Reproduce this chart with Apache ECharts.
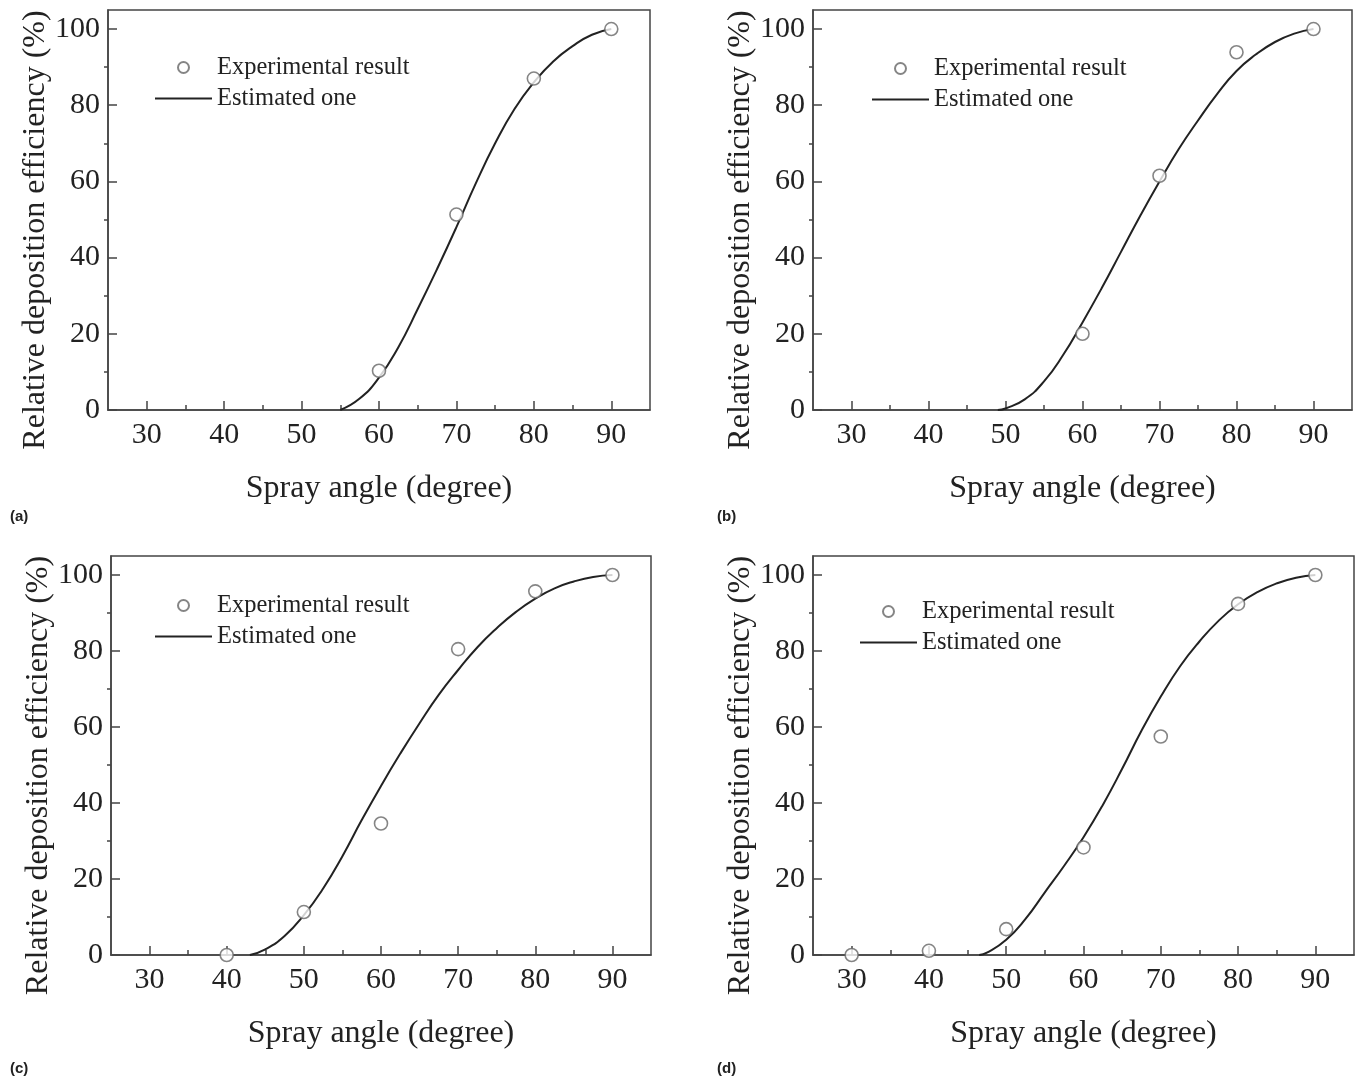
<!DOCTYPE html>
<html>
<head>
<meta charset="utf-8">
<script src="https://cdn.jsdelivr.net/npm/echarts@6/dist/echarts.min.js"></script>
<style>
html,body{margin:0;padding:0;background:#fff;}
#chart{width:1356px;height:1083px;}
</style>
</head>
<body>
<div id="chart"></div>
<script>
// ---- data ----
var panelLabels = ['(a)', '(b)', '(c)', '(d)'];
var xTickValues = [30, 40, 50, 60, 70, 80, 90];
var xMinorValues = [35, 45, 55, 65, 75, 85];
var yTickValues = [0, 20, 40, 60, 80, 100];
var yMinorValues = [10, 30, 50, 70, 90];

var expAngleA = [60, 70, 80, 90];
var expValueA = [10.3, 51.3, 87, 100];
var fitAngleA = [55, 57.5, 60, 62.5, 65, 67.5, 70, 72.5, 75, 77.5, 80, 82.5, 85, 87.5, 90];
var fitValueA = [0, 3, 8.5, 16.5, 26.5, 37, 48, 59.5, 70, 79, 86, 91.5, 95.5, 98.5, 100];

var expAngleB = [60, 70, 80, 90];
var expValueB = [20, 61.5, 93.9, 100];
var fitAngleB = [49, 50, 52.5, 55, 57.5, 60, 62.5, 65, 67.5, 70, 72.5, 75, 77.5, 80, 82.5, 85, 87.5, 90];
var fitValueB = [0, 0.4, 2.8, 7.5, 14.5, 23, 32, 41.5, 51, 60, 68.5, 76, 83, 89, 93.3, 96.6, 98.8, 100];

var expAngleC = [40, 50, 60, 70, 80, 90];
var expValueC = [0, 11.3, 34.6, 80.5, 95.7, 100];
var fitAngleC = [43, 45, 47.5, 50, 52.5, 55, 57.5, 60, 62.5, 65, 67.5, 70, 72.5, 75, 77.5, 80, 82.5, 85, 87.5, 90];
var fitValueC = [0, 1.5, 5, 10.5, 17.5, 26, 35.5, 44.5, 53, 61, 68.5, 75, 81, 86, 90.3, 93.8, 96.5, 98.3, 99.5, 100];

var expAngleD = [30, 40, 50, 60, 70, 80, 90];
var expValueD = [0, 1.1, 6.8, 28.3, 57.5, 92.4, 100];
var fitAngleD = [46.5, 47.5, 50, 52.5, 55, 57.5, 60, 62.5, 65, 67.5, 70, 72.5, 75, 77.5, 80, 82.5, 85, 87.5, 90];
var fitValueD = [0, 0.6, 4, 9.5, 16.5, 23.5, 31, 39.5, 49, 59, 68, 76, 82.5, 88, 92.3, 95.5, 97.8, 99.3, 100];

var expName = 'Experimental result';
var fitName = 'Estimated one';
var xName = 'Spray angle (degree)';
var yName = 'Relative deposition efficiency (%)';

// ---- layout ----
var panels = [
  {exp: [expAngleA, expValueA], fit: [fitAngleA, fitValueA], grid: {left: 108, top: 10, width: 542, height: 400}, legend: {left: 155, top: 55}, label: {x: 10, y: 518}},
  {exp: [expAngleB, expValueB], fit: [fitAngleB, fitValueB], grid: {left: 813, top: 10, width: 539, height: 400}, legend: {left: 872, top: 56}, label: {x: 717, y: 518}},
  {exp: [expAngleC, expValueC], fit: [fitAngleC, fitValueC], grid: {left: 111, top: 556, width: 540, height: 399}, legend: {left: 155, top: 593}, label: {x: 10, y: 1070}},
  {exp: [expAngleD, expValueD], fit: [fitAngleD, fitValueD], grid: {left: 813, top: 556, width: 541, height: 399}, legend: {left: 860, top: 599}, label: {x: 717, y: 1070}}
];

function zip(a, b) { return a.map(function (v, i) { return [v, b[i]]; }); }

var serif = '"Liberation Serif", "Times New Roman", serif';
var grids = [], xAxes = [], yAxes = [], series = [], legends = [], graphics = [];

panels.forEach(function (p, i) {
  grids.push({left: p.grid.left, top: p.grid.top, width: p.grid.width, height: p.grid.height,
    show: true, borderColor: '#444', borderWidth: 1.5, backgroundColor: 'transparent',
    containLabel: false, outerBoundsMode: 'none'});
  var xi = xAxes.length, yi = yAxes.length;
  xAxes.push({
    type: 'value', gridIndex: i, min: 25, max: 95,
    name: xName, nameLocation: 'middle', nameGap: 63,
    nameTextStyle: {fontFamily: serif, fontSize: 32, color: '#222'},
    axisLine: {show: true, lineStyle: {color: '#444', width: 1.5}},
    axisTick: {show: true, inside: true, length: 9, customValues: xTickValues, lineStyle: {color: '#444', width: 1.5}},
    axisLabel: {show: true, customValues: xTickValues, margin: 10, fontFamily: serif, fontSize: 30, color: '#222'},
    splitLine: {show: false}
  });
  xAxes.push({
    type: 'value', gridIndex: i, min: 25, max: 95, position: 'bottom',
    axisLine: {show: false},
    axisTick: {show: true, inside: true, length: 5, customValues: xMinorValues, lineStyle: {color: '#444', width: 1.5}},
    axisLabel: {show: false}, splitLine: {show: false}
  });
  yAxes.push({
    type: 'value', gridIndex: i, min: 0, max: 105,
    name: yName, nameLocation: 'middle', nameGap: 56,
    nameTextStyle: {fontFamily: serif, fontSize: 32, color: '#222', padding: [0, 40, 0, 0]},
    axisLine: {show: true, lineStyle: {color: '#444', width: 1.5}},
    axisTick: {show: true, inside: true, length: 9, customValues: yTickValues, lineStyle: {color: '#444', width: 1.5}},
    axisLabel: {show: true, customValues: yTickValues, margin: 8, fontFamily: serif, fontSize: 30, color: '#222'},
    splitLine: {show: false}
  });
  yAxes.push({
    type: 'value', gridIndex: i, min: 0, max: 105, position: 'left',
    axisLine: {show: false},
    axisTick: {show: true, inside: false, length: 4, customValues: yMinorValues, lineStyle: {color: '#444', width: 1.5}},
    axisLabel: {show: false}, splitLine: {show: false}
  });
  series.push({
    name: fitName, type: 'line', xAxisIndex: xi, yAxisIndex: yi,
    data: zip(p.fit[0], p.fit[1]), smooth: 0.5, showSymbol: false, symbol: 'none',
    lineStyle: {color: '#222', width: 2}, itemStyle: {color: '#222'}, z: 2, silent: true
  });
  series.push({
    name: expName, type: 'scatter', xAxisIndex: xi, yAxisIndex: yi,
    data: zip(p.exp[0], p.exp[1]), symbol: 'circle', symbolSize: 13,
    itemStyle: {color: '#fff', borderColor: '#666', borderWidth: 1.6}, z: 3, silent: true
  });
  legends.push({
    orient: 'vertical', left: p.legend.left, top: p.legend.top, padding: 0,
    data: [
      {name: expName},
      {name: fitName, icon: 'path://M0,0L100,0L100,3.6L0,3.6Z', itemStyle: {color: '#222', borderWidth: 0}}
    ],
    itemWidth: 57, itemHeight: 11, itemGap: 6,
    textStyle: {fontFamily: serif, fontSize: 24.5, color: '#222', lineHeight: 24},
    selectedMode: false
  });
  graphics.push({
    type: 'text', left: p.label.x, top: p.label.y - 9,
    style: {text: panelLabels[i], font: 'bold 15px "Liberation Sans", Arial, sans-serif', fill: '#222'}
  });
});

var chart = echarts.init(document.getElementById('chart'), null, {renderer: 'canvas'});
chart.setOption({
  animation: false,
  backgroundColor: '#fff',
  grid: grids, xAxis: xAxes, yAxis: yAxes, series: series, legend: legends, graphic: graphics
});
</script>
</body>
</html>
